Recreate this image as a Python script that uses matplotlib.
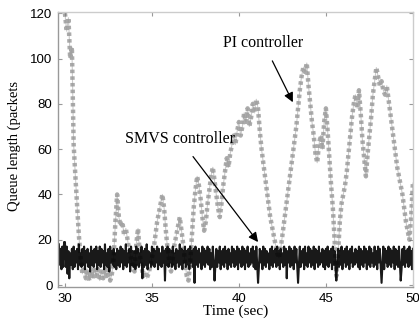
import numpy as np
import matplotlib.pyplot as plt

# SMVS controller queue (packets), sampled every 0.05 s from t = 29.65
smvs_txt = """
18 9 16 7 17 8 19
19 8 17 5 15 3 14 9 16 7 17 8 15 10 16 7 18 9 14 8
16 9 17 7 15 10 16 8 14 6 17 9 15 8 16 10 17 7 15 9
17 8 16 10 15 7 18 9 14 8 16 6 17 10 15 9 16 8 14 7
16 9 15 8 17 10 16 7 15 9 18 8 14 10 16 6 17 9 15 8
15 7 17 9 16 8 14 10 17 3 15 8 16 9 18 7 15 10 14 8
17 9 16 8 15 10 17 7 16 9 14 8 17 10 15 2 16 9 17 8
16 10 15 8 17 9 14 7 16 10 15 8 18 9 16 7 15 10 17 8
15 9 16 7 17 10 15 8 16 1 17 9 15 8 16 10 14 7 17 9
16 8 15 10 17 9 16 7 14 8 17 10 2 9 16 8 15 10 17 7
15 9 16 8 17 10 15 7 16 9 14 8 17 10 16 8 15 9 17 7
16 10 15 8 17 9 16 7 15 10 17 8 14 9 16 10 17 8 15 7
17 9 1 8 16 10 15 7 17 9 16 8 15 10 14 7 16 9 17 8
15 10 16 8 17 9 15 7 16 10 14 8 17 9 16 3 15 10 17 8
16 9 15 7 17 10 16 8 1 9 17 8 15 10 16 7 17 9 14 8
17 10 16 8 15 9 17 7 16 10 15 8 17 9 14 10 16 8 15 7
16 9 17 8 15 10 16 7 17 9 15 8 2 10 16 8 15 9 17 7
15 10 16 8 17 9 15 7 16 10 17 8 14 9 16 10 15 8 17 7
16 9 15 8 17 10 16 7 15 9 17 8 16 10 14 8 17 9 15 7
17 10 16 8 1 9 17 7 16 10 15 8 17 9 16 8 15 10 17 7
16 9 15 8 17 10 2 7 16 9 17 8 15 10 16 8 17 9 15 7
16
"""

# PI controller queue (packets), sampled every 0.1 s from t = 30
pi_txt = """
120 112 118 100 105 62 48 35 22 12
5 8 3 7 2 6 3 8 4 7
2 6 3 8 4 7 2 5 12 28
40 30 26 28 22 25 20 15 12 8
6 18 25 14 8 4 6 3 5 8
12 16 22 28 32 36 40 34 24 16
10 6 12 18 22 26 30 24 18 10
4 2 10 22 34 42 48 44 38 30
24 28 36 42 48 52 46 40 34 30
36 44 50 56 52 58 62 66 62 68
72 66 70 76 72 78 70 74 80 76
82 78 68 60 54 48 42 36 30 26
22 18 14 12 16 22 28 34 40 46
52 58 64 70 78 86 92 96 94 98
88 80 72 66 58 54 62 66 60 72
78 68 56 44 34 20 4 14 28 36
40 44 50 58 66 74 80 84 78 86
76 64 56 48 58 66 74 84 90 96
92 88 90 86 84 88 82 76 70 64
58 52 48 44 40 34 28 24 20 30
45
"""

smvs = np.array(smvs_txt.split(), dtype=float)
pi = np.array(pi_txt.split(), dtype=float)
t_smvs = 29.65 + 0.05 * np.arange(len(smvs))
t_pi = 30 + 0.1 * np.arange(len(pi))

serif = ["Liberation Serif", "DejaVu Serif"]
sans = ["Liberation Sans", "DejaVu Sans"]

fig = plt.figure(figsize=(4.19, 3.23), dpi=100)
ax = fig.add_axes([0.1384, 0.111, 0.847, 0.851])

ax.plot(t_pi, pi, color="0.4", lw=3.2, ls=(0, (0.8, 0.7)), alpha=0.55)
ax.plot(t_pi, pi, color="0.6", lw=0.8, alpha=0.5)
ax.plot(t_smvs, smvs, color="black", lw=1.5, alpha=0.9)

ax.set_xlim(29.6, 50)
ax.set_ylim(-0.9, 120.4)
ax.set_xticks([30, 35, 40, 45, 50])
ax.set_yticks([0, 20, 40, 60, 80, 100, 120])

for sp in ax.spines.values():
    sp.set_color("0.6")
    sp.set_linewidth(1.0)
ax.spines["top"].set_color("0.8")
ax.spines["right"].set_color("0.8")

ax.tick_params(direction="in", length=3, top=True, right=True,
               color="0.6", labelsize=9.5, pad=4)
for lab in ax.get_xticklabels() + ax.get_yticklabels():
    lab.set_family(sans)

ax.set_xlabel("Time (sec)", family=serif, fontsize=11, labelpad=0)
fig.text(14 / 419, 1 - 146 / 323, "Queue length (packets", family=serif,
         fontsize=10.5, rotation=90, ha="center", va="center")

ax.annotate("PI controller", xy=(43.1, 80.7), xytext=(41.4, 107),
            family=serif, fontsize=11.5, ha="center", va="center",
            arrowprops=dict(arrowstyle="-|>", color="black", lw=0.9,
                            mutation_scale=14, shrinkA=6, shrinkB=0))
ax.annotate("SMVS controller", xy=(41.1, 19), xytext=(36.6, 64.4),
            family=serif, fontsize=11.5, ha="center", va="center",
            arrowprops=dict(arrowstyle="-|>", color="black", lw=0.9,
                            mutation_scale=14, shrinkA=6, shrinkB=0))

fig.savefig("out.png", dpi=100)
